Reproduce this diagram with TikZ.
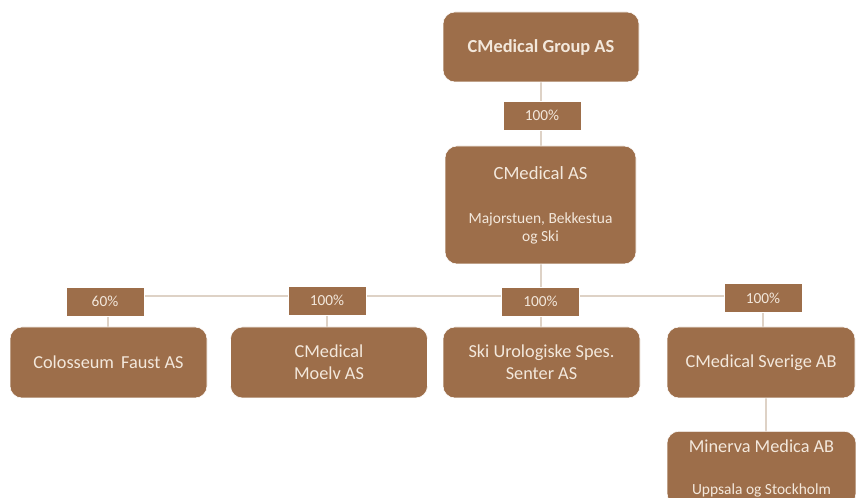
\documentclass[tikz,border=0pt]{standalone}
\usepackage{fontspec}
\setmainfont{Carlito}
\usetikzlibrary{positioning}

\definecolor{boxbrown}{RGB}{157,110,74}
\definecolor{boxtext}{RGB}{243,232,220}
\definecolor{linkline}{RGB}{222,210,198}

\begin{document}
\begin{tikzpicture}[
x=0.75pt, y=-0.75pt,
   firm/.style = {rectangle, rounded corners=9pt, draw=white, thin,% company boxes
                  fill=boxbrown, text=boxtext, align=center,
                  minimum width=147.75pt, minimum height=53.25pt,
                  font=\fontsize{13.7}{16.5}\selectfont, inner sep=2pt},
  share/.style = {rectangle, draw=white, thin, fill=boxbrown, text=boxtext,% ownership labels
                  minimum width=58.5pt, minimum height=21.75pt,
                  font=\fontsize{11.5}{13}\selectfont, inner sep=1pt},
   link/.style = {draw=linkline, line width=2.2pt},
                        ]
\clip (0,0) rectangle (856,498);
\useasboundingbox (0,0) rectangle (856,498);
% links first, boxes on top
\coordinate (bar-l) at (108,296);
\coordinate (bar-r) at (763,296);
\coordinate (bar-m) at (541,296);
\draw[link] (bar-l) -- (bar-r);
\draw[link] (541,47) -- (541,205);
\draw[link] (bar-m) -- (541,260);
\draw[link] (108,296) -- (108,362);
\draw[link] (327,296) -- (327,362);
\draw[link] (541,296) -- (541,362);
\draw[link] (763,296) -- (763,362);
\draw[link] (766,362) -- (766,460);
% companies
\node[firm, minimum width=147pt, minimum height=52.5pt,
      font=\fontsize{13.8}{16}\selectfont\bfseries] (group) at (541,47) {CMedical Group AS};
\node[firm, minimum width=143.25pt, minimum height=88.5pt,
      font=\fontsize{11.6}{13.3}\selectfont] (cmed) at (540.5,205)
     {{\fontsize{14}{16}\selectfont CMedical AS}\\[19.7pt]Majorstuen, Bekkestua\\og Ski};
\node[firm] (faust) at (108.5,362.5) {Colosseum\, Faust AS};
\node[firm] (moelv) at (329,362.5) {CMedical\\Moelv AS};
\node[firm] (ski) at (541.5,362.5) {Ski Urologiske Spes.\\Senter AS};
\node[firm, minimum width=141pt] (sverige) at (761,362.5) {CMedical Sverige AB};
\node[firm, minimum width=141.75pt, minimum height=55.5pt, anchor=north] (minerva) at (761.5,431)
     {Minerva Medica AB\\[15pt]{\fontsize{11.6}{13}\selectfont Uppsala og Stockholm}};
% ownership shares
\node[share] (s-cmed) at (542,115.5) {100\%};
\node[share] (s-faust) at (105,301.5) {60\%};
\node[share] (s-moelv) at (327,300.5) {100\%};
\node[share] (s-ski) at (540.5,301.5) {100\%};
\node[share] (s-sverige) at (763,298) {100\%};
\end{tikzpicture}
\end{document}
